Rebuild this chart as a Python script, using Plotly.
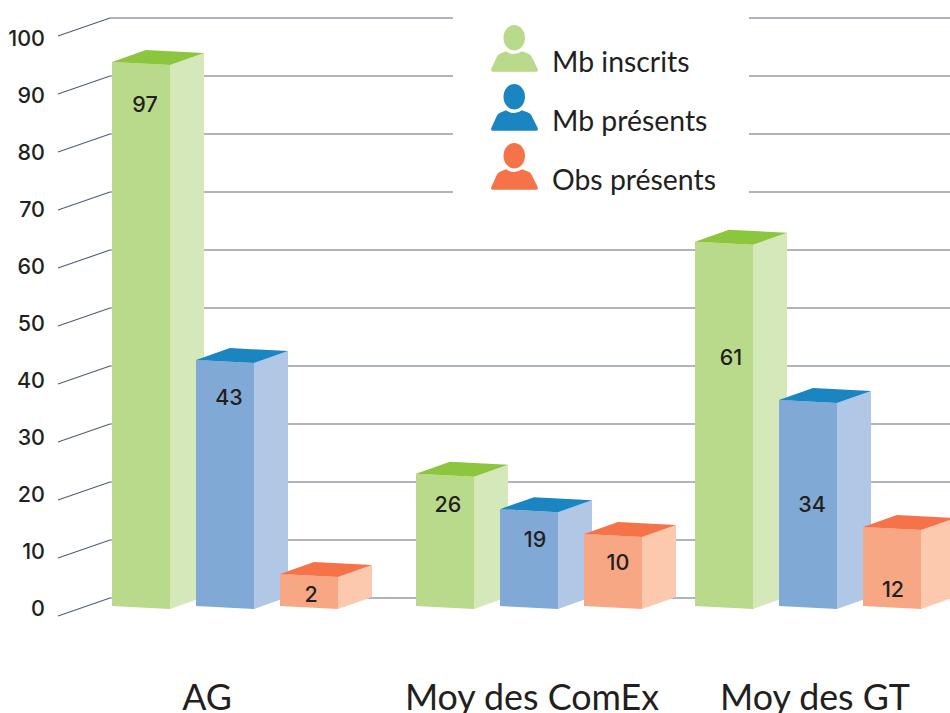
import plotly.graph_objects as go

# ---------- data ----------
categories = ["AG", "Moy des ComEx", "Moy des GT"]
series_names = ["Mb inscrits", "Mb présents", "Obs présents"]
# printed values
labels_inscrits = [97, 26, 61]
labels_presents = [43, 19, 34]
labels_obs = [2, 10, 12]
# heights of the drawn columns as read against the axis
heights_inscrits = [93.8, 22.8, 62.8]
heights_presents = [42.4, 16.7, 35.5]
heights_obs = [5.5, 12.4, 13.6]
axis_ticks = [0, 10, 20, 30, 40, 50, 60, 70, 80, 90, 100]

# ---------- styling / layout constants ----------
W, H = 950, 713
PLOT_BOTTOM = 673
PX_PER_UNIT = 5.8
Y0_PX = 606


def val(py):
    """pixel row -> value on the main y axis"""
    return (Y0_PX - py) / PX_PER_UNIT


group_left = [112, 416, 695]
slot = 84
bar_w = 58
depth_x, depth_y = 34, 12 / PX_PER_UNIT
slant = 3 / PX_PER_UNIT
category_x = [207, 532, 815]

front = ["#b9d98b", "#80a9d5", "#f8a785"]
side = ["#d5e8b9", "#b0c7e5", "#fdc9ae"]
top = ["#8cc63f", "#1b85c2", "#f6734a"]
grid_color = "#4f5f6e"
text_color = "#231f20"

all_heights = [heights_inscrits, heights_presents, heights_obs]
all_labels = [labels_inscrits, labels_presents, labels_obs]
# rows (px) of the printed numbers, per series then category
label_rows = [[107, 507, 360], [400, 542, 507], [597, 565, 592]]
label_cols = [[145, 448, 731], [229, 535, 812], [311, 618, 893]]

fig = go.Figure()


def poly(xs, ys, color):
    fig.add_trace(go.Scatter(
        x=xs + xs[:1], y=ys + ys[:1], mode="lines", fill="toself",
        fillcolor=color, line=dict(width=0, color=color),
        hoverinfo="skip", showlegend=False,
    ))


# back wall grid lines + left slanted ticks
gap_l, gap_r = 453, 749
wall_off = (Y0_PX - 598) / PX_PER_UNIT
tick_off = (Y0_PX - 616) / PX_PER_UNIT
gx, gy, tx, ty = [], [], [], []
for v in axis_ticks:
    yy = v + wall_off
    if v >= 70:
        gx += [110, gap_l, None, gap_r, W, None]
        gy += [yy, yy, None, yy, yy, None]
    else:
        gx += [110, W, None]
        gy += [yy, yy, None]
    tx += [58, 110, None]
    ty += [v + tick_off, yy, None]
fig.add_trace(go.Scatter(x=gx, y=gy, mode="lines", line=dict(color="#5f6c79", width=1.2),
                         hoverinfo="skip", showlegend=False))
fig.add_trace(go.Scatter(x=tx, y=ty, mode="lines", line=dict(color=grid_color, width=1.1),
                         hoverinfo="skip", showlegend=False))

# columns, left to right so that each one hides the side of its neighbour
for g in range(len(categories)):
    for s in range(len(series_names)):
        h = all_heights[s][g]
        x0 = group_left[g] + s * slot
        x1 = x0 + bar_w
        x2 = x1 + depth_x
        xb = x0 + depth_x
        poly([x1, x2, x2, x1],
             [h - slant, h - slant + depth_y, -slant + depth_y, -slant], side[s])
        poly([x0, x1, x1, x0], [h, h - slant, -slant, 0], front[s])
        poly([x0, xb, x2, x1], [h, h + depth_y, h - slant + depth_y, h - slant], top[s])

# printed values
for s in range(len(series_names)):
    fig.add_trace(go.Scatter(
        x=label_cols[s], y=[val(r) for r in label_rows[s]],
        text=[str(t) for t in all_labels[s]], mode="text",
        textposition="middle center",
        textfont=dict(family="Inter", size=21.5, color=text_color, weight=500),
        name=series_names[s], showlegend=False, hoverinfo="skip",
    ))

# carrier for the printed axis on y2
fig.add_trace(go.Scatter(x=[0], y=[0], yaxis="y2", mode="markers",
                         marker=dict(opacity=0, size=1), hoverinfo="skip", showlegend=False))

# legend built from person icons and text
shapes, annotations = [], []
for i, name in enumerate(series_names):
    dy = 59 * i
    c = top[i] if i else front[0]
    shapes.append(dict(type="circle", xref="x", yref="y", layer="above",
                       x0=503.5, x1=525, y0=val(50.5 + dy), y1=val(25 + dy),
                       fillcolor=c, line=dict(width=0)))
    def p(x, y):
        return f"{x},{val(y + dy):.4f}"
    path = (f"M{p(492.5, 71.7)} Q{p(490.5, 71.7)} {p(491.3, 69)} L{p(497, 56.5)} "
            f"Q{p(498, 54.5)} {p(500.5, 53.5)} L{p(506, 51.2)} Q{p(514, 57)} {p(522, 51.2)} "
            f"L{p(528, 53.5)} Q{p(530.5, 54.5)} {p(531.5, 56.5)} L{p(537.7, 69)} "
            f"Q{p(538.5, 71.7)} {p(536.5, 71.7)} Z")
    shapes.append(dict(type="path", xref="x", yref="y", layer="above", path=path,
                       fillcolor=c, line=dict(width=0)))
    annotations.append(dict(x=549.5, y=val(60.7 + dy), xref="x", yref="y",
                            text=name, showarrow=False, xanchor="left", yanchor="middle",
                            font=dict(family="Lato", size=28.4, color=text_color)))

fig.update_layout(
    width=W, height=H,
    margin=dict(l=0, r=0, t=0, b=H - PLOT_BOTTOM, pad=0),
    paper_bgcolor="white", plot_bgcolor="white",
    showlegend=False,
    shapes=shapes, annotations=annotations,
    xaxis=dict(range=[0, W], showgrid=False, zeroline=False, showline=False, ticks="",
               tickmode="array", tickvals=category_x, ticktext=categories,
               tickfont=dict(family="Lato", size=35.8, color=text_color), automargin=False),
    yaxis=dict(range=[val(PLOT_BOTTOM), val(0)], showgrid=False, zeroline=False, showline=False,
               showticklabels=False, ticks="", automargin=False),
    yaxis2=dict(range=[(608 - PLOT_BOTTOM) / 5.7, 608 / 5.7], overlaying="y", anchor="free",
                position=45 / W, side="left", showgrid=False, zeroline=False, showline=False,
                ticks="", tickmode="array", tickvals=axis_ticks,
                tickfont=dict(family="Inter", size=21.5, color=text_color, weight=500),
                automargin=False),
)

fig.write_html("out.html", config={"displayModeBar": False},
               post_script="document.body.style.margin='0';document.body.style.overflow='hidden';")
